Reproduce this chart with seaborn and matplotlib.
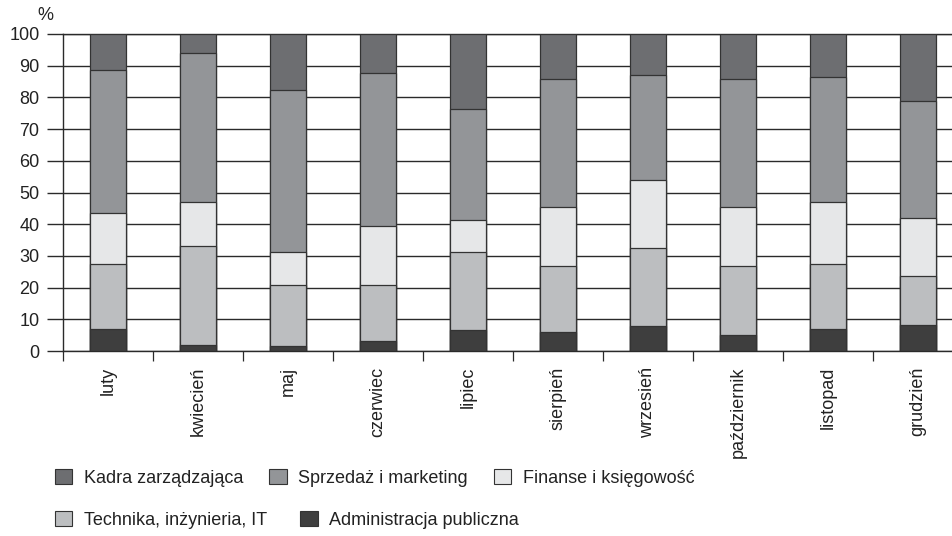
import matplotlib
matplotlib.use("Agg")
import matplotlib.pyplot as plt
from matplotlib.patches import Patch
from matplotlib.ticker import FixedLocator
import numpy as np
import pandas as pd
import seaborn as sns

months = ["luty", "kwiecień", "maj", "czerwiec", "lipiec", "sierpień",
          "wrzesień", "październik", "listopad", "grudzień"]
admin = [7.0, 2.0, 1.5, 3.0, 6.6, 5.9, 7.9, 5.1, 7.0, 8.3]
tech = [20.5, 31.0, 19.3, 17.8, 24.5, 20.9, 24.5, 21.7, 20.6, 15.3]
finance = [16.0, 14.0, 10.3, 18.6, 10.3, 18.5, 21.5, 18.5, 19.4, 18.5]
sales = [45.0, 47.0, 51.1, 48.3, 34.8, 40.6, 33.3, 40.6, 39.4, 36.8]
kadra = [11.5, 6.0, 17.8, 12.3, 23.8, 14.1, 12.8, 14.1, 13.6, 21.1]

series_names = ["Administracja publiczna", "Technika, inżynieria, IT",
                "Finanse i księgowość", "Sprzedaż i marketing", "Kadra zarządzająca"]
series_vals = [admin, tech, finance, sales, kadra]
colors = {"Kadra zarządzająca": "#6d6e71", "Sprzedaż i marketing": "#939598",
          "Finanse i księgowość": "#e6e7e8", "Technika, inżynieria, IT": "#bcbec0",
          "Administracja publiczna": "#3e3e3e"}
yticks = list(range(0, 101, 10))

sns.set_style("white")
plt.rcParams["font.family"] = ["Liberation Sans", "DejaVu Sans"]

df = pd.DataFrame({"month": months})
cum = np.zeros(len(months))
for name, vals in zip(series_names, series_vals):
    cum = cum + np.array(vals)
    df[name] = cum

fig = plt.figure(figsize=(9.52, 5.36), dpi=100)
ax = fig.add_axes([63 / 952, 185 / 536, 900 / 952, 317 / 536])

edge = "#333333"
for name in reversed(series_names):
    sns.barplot(data=df, x="month", y=name, order=months, color=colors[name],
                width=0.39, edgecolor=edge, linewidth=0.9, saturation=1,
                ax=ax, zorder=3)

ax.set_xlim(-0.5, 9.5)
ax.set_ylim(0, 100)
ax.set_yticks(yticks)
ax.set_yticklabels([str(t) for t in yticks], fontsize=13)
ax.yaxis.grid(True, color="#2a2a2a", linewidth=1.0, zorder=0)
ax.set_axisbelow(True)
ax.set_xlabel("")
ax.set_ylabel("")
ax.set_xticks(range(len(months)))
ax.set_xticklabels(months, rotation=90, fontsize=13, va="top", ha="center")
ax.xaxis.set_minor_locator(FixedLocator(np.arange(-0.5, 10, 1.0)))
ax.tick_params(axis="x", which="major", length=0, pad=11.5, colors="#222222")
ax.tick_params(axis="x", which="minor", length=7.5, width=0.9, color="#2a2a2a",
               direction="out", bottom=True)
ax.tick_params(axis="y", which="major", length=11.5, width=1.0, color="#2a2a2a",
               direction="out", pad=5.5, left=True, colors="#222222")
ax.tick_params(axis="y", colors="#222222", color="#2a2a2a")
for s in ["left", "bottom", "top"]:
    ax.spines[s].set_visible(True)
    ax.spines[s].set_color("#2a2a2a")
    ax.spines[s].set_linewidth(1.0)
ax.spines["right"].set_visible(False)

fig.text(45 / 952, 1 - 16 / 536, "%", ha="center", va="center", fontsize=13,
         color="#222222")

def handles_for(names):
    return [Patch(facecolor=colors[n], edgecolor=edge, linewidth=0.8) for n in names]

row1 = ["Kadra zarządzająca", "Sprzedaż i marketing", "Finanse i księgowość"]
row2 = ["Technika, inżynieria, IT", "Administracja publiczna"]
common = dict(frameon=False, fontsize=13, borderpad=0, borderaxespad=0,
              handlelength=0.95, handleheight=0.9, handletextpad=0.65,
              labelcolor="#222222")
leg1 = fig.legend(handles_for(row1), row1, ncol=3, loc="center left",
                  bbox_to_anchor=(55 / 952, 1 - 478 / 536), columnspacing=1.45,
                  **common)
leg2 = fig.legend(handles_for(row2), row2, ncol=2, loc="center left",
                  bbox_to_anchor=(55 / 952, 1 - 520 / 536), columnspacing=1.85,
                  **common)

fig.savefig("out.png", dpi=100, facecolor="white")
